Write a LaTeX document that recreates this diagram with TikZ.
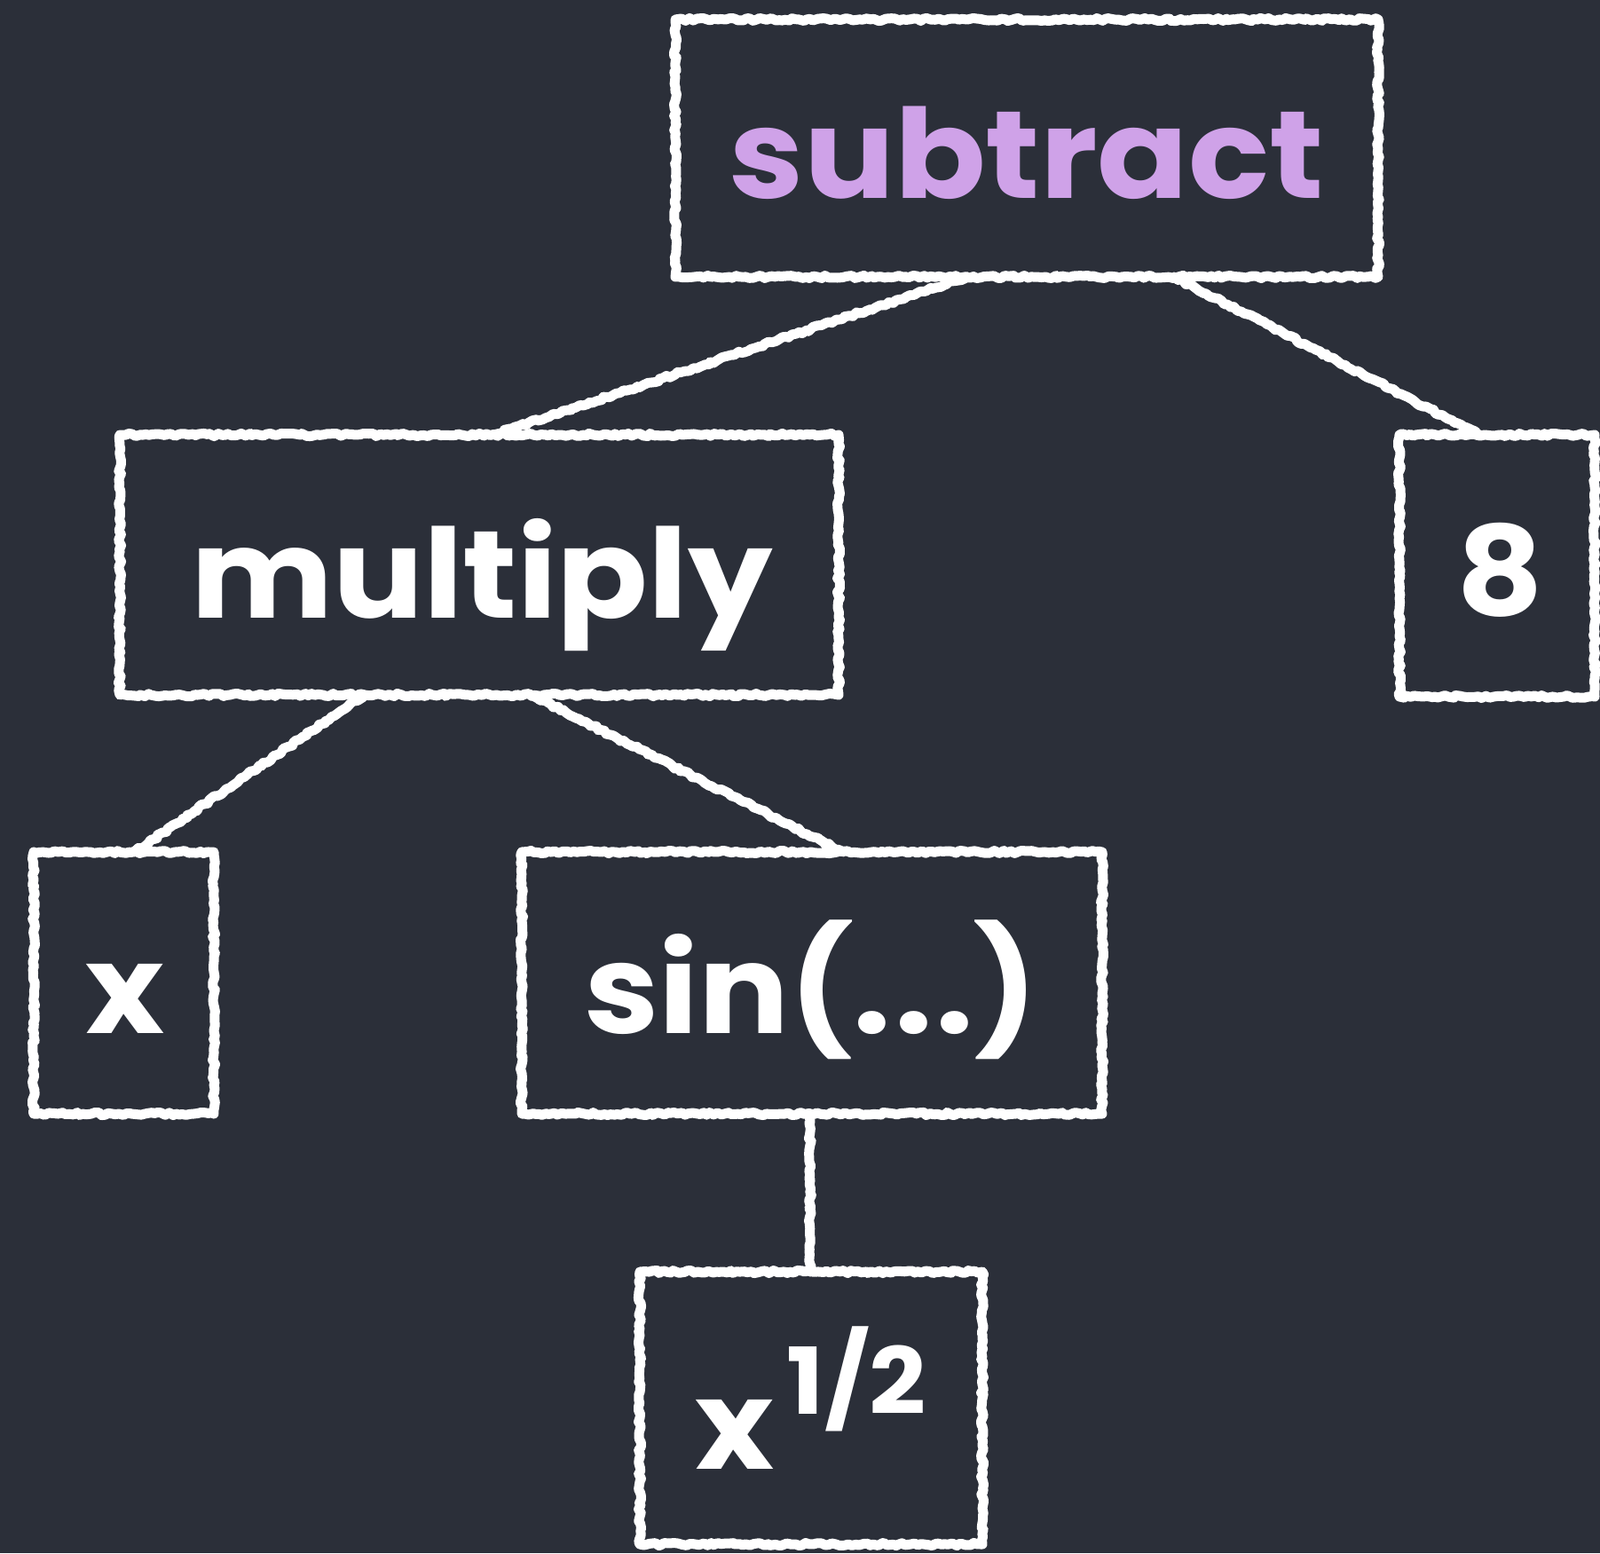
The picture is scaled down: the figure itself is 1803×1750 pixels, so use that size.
\documentclass[tikz,border=0pt]{standalone}
\usepackage{fontspec}
\setmainfont{Poppins}
\newfontfamily\chalkfont[FakeStretch=1.08]{Poppins}
\usetikzlibrary{calc,decorations.pathmorphing}
\definecolor{board}{HTML}{2B2F39}
\definecolor{chalkpurple}{HTML}{CFA2E8}
\begin{document}
\begin{tikzpicture}[x=1pt,y=-1pt,
  chalk/.style={draw=white, line width=11pt, line cap=round, line join=round, decorate,
    decoration={random steps, segment length=4pt, amplitude=1.6pt}},
  chalkbox/.style={chalk, rectangle, inner sep=0pt, outer sep=0pt},
  lbl/.style={text=white, font=\chalkfont\bfseries\fontsize{140}{150}\selectfont, inner sep=0pt, anchor=base}
]
\fill[board] (0,0) rectangle (1803,1750);
\useasboundingbox (0,0) rectangle (1803,1750);

% boxes
\node[chalkbox, minimum width=792pt, minimum height=290pt] (sub) at (1157,167) {};
\node[chalkbox, minimum width=810pt, minimum height=293pt] (mul) at (540,636.5) {};
\node[chalkbox, minimum width=220pt, minimum height=295pt] (eight) at (1687,637.5) {};
\node[chalkbox, minimum width=203pt, minimum height=295pt] (xb) at (139.5,1107.5) {};
\node[chalkbox, minimum width=654pt, minimum height=295pt] (sin) at (915,1107.5) {};
\node[chalkbox, minimum width=386pt, minimum height=307pt] (sq) at (914,1586.5) {};

% labels
\node[lbl, text=chalkpurple] (tsub) at (1157,223) {subtract};
\node[lbl] (tmul) at (543,696) {multiply};
\node[lbl] (teight) at (1690,693) {8};
\node[lbl] (tx) at (141,1164) {x};
\node[lbl] (tsin) at (914,1164) {sin(.\kern4pt.\kern4pt.)};
\node[lbl] (tsq) at (914,1655) {x\kern14pt\raisebox{62pt}{\fontsize{104}{110}\selectfont 1/2}};

% connectors
\draw[chalk] ($(sub.south west)!0.415!(sub.south east)$) -- ($(mul.north west)!0.52!(mul.north east)$);
\draw[chalk] ($(sub.south west)!0.71!(sub.south east)$) -- ($(eight.north west)!0.41!(eight.north east)$);
\draw[chalk] ($(mul.south west)!0.34!(mul.south east)$) -- ($(xb.north west)!0.56!(xb.north east)$);
\draw[chalk] ($(mul.south west)!0.573!(mul.south east)$) -- ($(sin.north west)!0.553!(sin.north east)$);
\draw[chalk] ($(sin.south west)!0.497!(sin.south east)$) -- ($(sq.north west)!0.497!(sq.north east)$);
\end{tikzpicture}
\end{document}
